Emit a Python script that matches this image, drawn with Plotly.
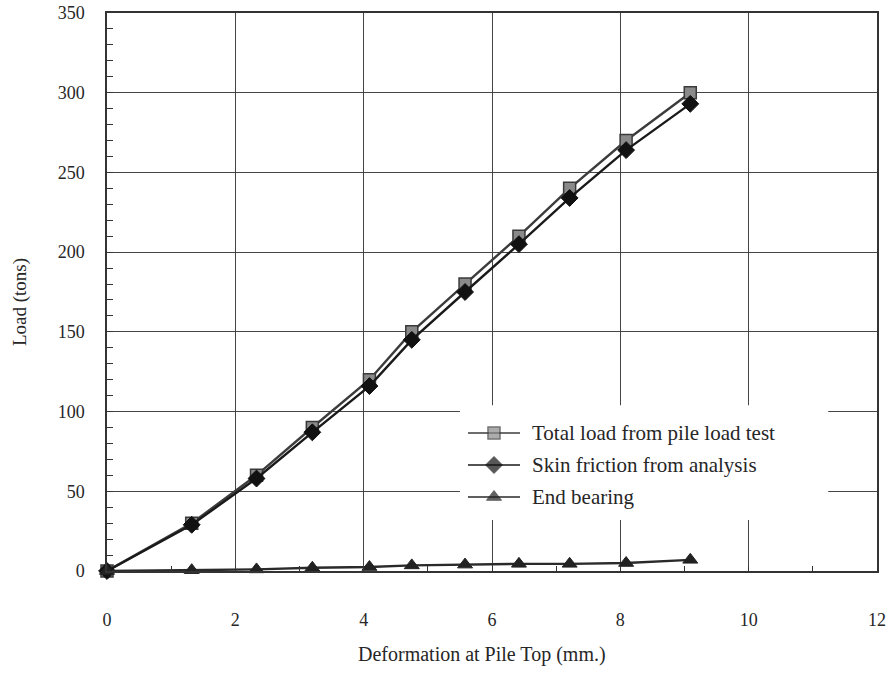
import plotly.graph_objects as go

# Pile load test: deformation at pile top vs. load
deformation_mm = [0, 1.32, 2.33, 3.20, 4.09, 4.75, 5.58, 6.42, 7.21, 8.09, 9.09]
total_load = [0, 30, 60, 90, 120, 150, 180, 210, 240, 270, 300]
skin_friction = [0, 29, 58, 87, 116, 145, 175, 205, 234, 264, 293]
end_bearing = [0, 0.5, 1, 2, 2.5, 3.5, 4, 4.5, 4.5, 5, 7]

series_names = [
    "Total load from pile load test",
    "Skin friction from analysis",
    "End bearing",
]
x_ticks = [0, 2, 4, 6, 8, 10, 12]
y_ticks = [0, 50, 100, 150, 200, 250, 300, 350]

FONT = "Liberation Serif, Times New Roman, serif"
INK = "#262626"

styles = [
    dict(symbol="square", size=12, color="#8a8a8a", line=dict(color="#3a3a3a", width=1.5)),
    dict(symbol="diamond", size=13, color="#111111", line=dict(color="#111111", width=1)),
    dict(symbol="triangle-up", size=13, color="#222222", line=dict(color="#222222", width=1)),
]
line_colors = ["#3c3c3c", "#1a1a1a", "#2a2a2a"]

fig = go.Figure()

for name, ys, st, lc in zip(series_names, [total_load, skin_friction, end_bearing], styles, line_colors):
    fig.add_trace(go.Scatter(
        x=deformation_mm, y=ys, name=name, mode="lines+markers",
        line=dict(color=lc, width=2.4),
        marker=st, showlegend=False, cliponaxis=False,
    ))

# Legend drawn on an overlay axis spanning the plot area (0..1 in both directions)
legend_rows = [0.2473, 0.19, 0.1326]
for name, yy, st, lc in zip(series_names, legend_rows, styles, line_colors):
    fig.add_trace(go.Scatter(
        x=[0.4688, 0.5026, 0.5364], y=[yy, yy, yy], mode="lines+markers",
        line=dict(color=lc, width=1.6),
        marker=dict(symbol=st["symbol"], size=[0, st["size"], 0], color=st["color"], line=st["line"]),
        xaxis="x2", yaxis="y2", showlegend=False, hoverinfo="skip",
    ))
    fig.add_annotation(
        x=0.549, y=yy, xref="x2", yref="y2", text=name, showarrow=False,
        xanchor="left", yanchor="middle", font=dict(family=FONT, size=21, color=INK),
    )

# White panel behind the legend, covering the gridlines
fig.add_shape(type="rect", xref="x", yref="y", x0=5.50, x1=11.24, y0=32, y1=104,
              fillcolor="white", line=dict(width=0), layer="between")

axis_common = dict(
    showline=True, linecolor="#333333", linewidth=1.5, mirror=True,
    showgrid=True, gridcolor="#444444", gridwidth=1, zeroline=False,
    ticks="inside", tickcolor="#333333", automargin=False,
    tickfont=dict(family=FONT, size=18, color=INK),
)

fig.update_layout(
    width=889, height=674,
    margin=dict(l=107, r=12, t=13, b=103, autoexpand=False),
    paper_bgcolor="white", plot_bgcolor="white",
    xaxis=dict(range=[0, 12], tickvals=x_ticks, ticklen=0, ticklabelstandoff=32,
               minor=dict(dtick=1, tick0=1, ticks="inside", ticklen=5, tickcolor="#333333", showgrid=False),
               **axis_common),
    yaxis=dict(range=[0, 350], tickvals=y_ticks, ticklen=0, ticklabelstandoff=17,
               minor=dict(dtick=10, ticks="inside", ticklen=6, tickcolor="#333333", showgrid=False),
               **axis_common),
    xaxis2=dict(overlaying="x", range=[0, 1], visible=False, fixedrange=True, automargin=False),
    yaxis2=dict(overlaying="y", range=[0, 1], visible=False, fixedrange=True, automargin=False),
    showlegend=False,
)

fig.add_annotation(x=0.487, y=-0.1505, xref="paper", yref="paper", text="Deformation at Pile Top (mm.)",
                   showarrow=False, xanchor="center", yanchor="middle",
                   font=dict(family=FONT, size=20, color=INK))
fig.add_annotation(x=-0.113, y=0.482, xref="paper", yref="paper", text="Load (tons)", textangle=-90,
                   showarrow=False, xanchor="center", yanchor="middle",
                   font=dict(family=FONT, size=19, color=INK))

fig.write_html("out.html")
